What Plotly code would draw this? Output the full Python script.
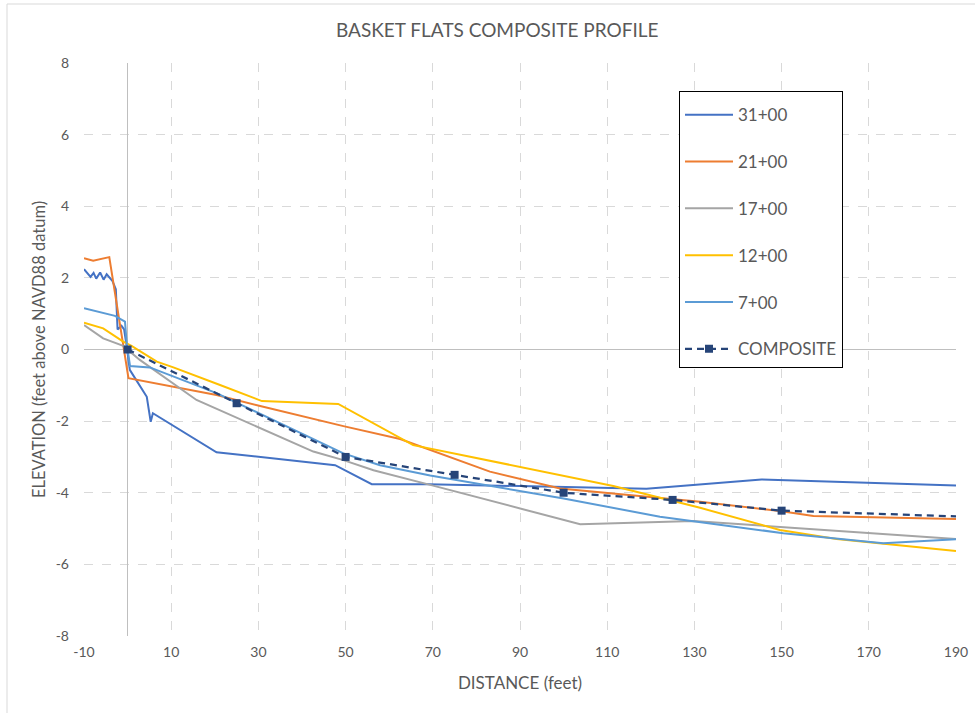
import plotly.graph_objects as go

# Beach profiles at Basket Flats: distance from baseline (ft) vs elevation (ft, NAVD88)
x_3100 = [-10, -8.5, -7.8, -7.2, -6.3, -5.5, -4.8, -3.5, -2.7, -2.3, -1.4, -0.8, -0.2,
          0.5, 1.7, 4.4, 5.3, 5.8, 20.4, 47.6, 56, 69, 119, 145.4, 190]
y_3100 = [2.24, 2.03, 2.14, 1.98, 2.15, 1.95, 2.1, 1.92, 1.68, 0.56, 0.66, 0.56, 0.08,
          -0.57, -0.8, -1.32, -2.02, -1.78, -2.87, -3.23, -3.76, -3.76, -3.89, -3.63, -3.8]

x_2100 = [-10, -7.9, -4.2, 0.2, 20.4, 30.4, 49.5, 62.5, 83.1, 99.2, 131.3, 149.6, 157.3, 190]
y_2100 = [2.55, 2.48, 2.58, -0.8, -1.27, -1.58, -2.14, -2.5, -3.41, -3.88, -4.25, -4.51, -4.65, -4.73]

x_1700 = [-10, -5.6, -1.0, 2.8, 15.8, 29.6, 42.6, 49.5, 56.4, 69.4, 103.8, 129.8, 190]
y_1700 = [0.68, 0.31, 0.1, -0.29, -1.41, -2.16, -2.85, -3.09, -3.37, -3.78, -4.88, -4.79, -5.29]

x_1200 = [-10, -5.6, -1.0, 0.9, 6.7, 10.5, 21.2, 30.8, 48.3, 65.5, 111.4, 131.3, 149.6, 162.6, 190]
y_1200 = [0.75, 0.59, 0.22, 0.1, -0.34, -0.5, -0.99, -1.44, -1.52, -2.67, -3.81, -4.42, -5.04, -5.29, -5.63]

x_0700 = [-10, -2.9, -0.6, -0.2, 0.55, 5.1, 20.4, 49.5, 57.9, 69.4, 100, 122.1, 150.4, 173.3, 190]
y_0700 = [1.15, 0.94, 0.78, 0.17, -0.46, -0.5, -1.22, -2.9, -3.23, -3.52, -4.16, -4.67, -5.13, -5.41, -5.3]

x_comp = [0, 25, 50, 75, 100, 125, 150, 200]
y_comp = [0, -1.5, -3.0, -3.5, -4.0, -4.2, -4.5, -4.7]

x_ticks = list(range(-10, 191, 20))
x_tick_labels = [str(v) for v in x_ticks]
y_ticks = list(range(-8, 9, 2))
y_tick_labels = [str(v) for v in y_ticks]

FONT = "Lato, 'Open Sans', sans-serif"
GREY_TXT = "#595959"

profiles = [
    ("31+00", x_3100, y_3100, "#4472C4"),
    ("21+00", x_2100, y_2100, "#ED7D31"),
    ("17+00", x_1700, y_1700, "#A5A5A5"),
    ("12+00", x_1200, y_1200, "#FFC000"),
    ("7+00", x_0700, y_0700, "#5B9BD5"),
]

fig = go.Figure()
for name, xs, ys, color in profiles:
    fig.add_trace(go.Scatter(
        x=xs, y=ys, name=name, mode="lines", legendgroup=name,
        line=dict(color=color, width=2),
    ))

fig.add_trace(go.Scatter(
    x=x_comp, y=y_comp, name="COMPOSITE", mode="lines+markers", legendgroup="COMPOSITE",
    line=dict(color="#264478", width=2.25, dash="7px,5px"),
    marker=dict(symbol="square", size=8, color="#264478"),
    cliponaxis=True,
))

axis_common = dict(
    showgrid=True, gridcolor="#D9D9D9", gridwidth=1, griddash="dash",
    zeroline=True, zerolinecolor="#BFBFBF", zerolinewidth=1,
    showline=False, ticks="", automargin=False,
    tickfont=dict(family=FONT, size=14, color=GREY_TXT),
)

fig.update_layout(
    width=975, height=713,
    margin=dict(l=84, r=19, t=63, b=77),
    paper_bgcolor="white", plot_bgcolor="white",
    title=dict(text="BASKET FLATS COMPOSITE PROFILE", x=0.51, xanchor="center",
               y=0.957, yanchor="middle",
               font=dict(family=FONT, size=19, color=GREY_TXT)),
    xaxis=dict(range=[-10, 190], tickvals=x_ticks, ticktext=x_tick_labels,
               ticklabelstandoff=6,
               title=dict(text="DISTANCE (feet)", standoff=18,
                          font=dict(family=FONT, size=17, color=GREY_TXT)),
               **axis_common),
    yaxis=dict(range=[-8, 8], tickvals=y_ticks, ticktext=y_tick_labels,
               ticklabelstandoff=14,
               title=dict(text="ELEVATION (feet above NAVD88 datum)", standoff=5,
                          font=dict(family=FONT, size=16.5, color=GREY_TXT)),
               **axis_common),
    legend=dict(x=(679 - 84) / 872, y=(636 - 91) / 573, xanchor="left", yanchor="top",
                bgcolor="white", bordercolor="black", borderwidth=1,
                tracegroupgap=21.7, itemwidth=48,
                title=dict(text=" ", font=dict(family=FONT, size=4)),
                font=dict(family=FONT, size=17, color=GREY_TXT)),
    showlegend=True,
    shapes=[dict(type="rect", xref="paper", yref="paper",
                 x0=(7 - 84) / 872, x1=1.1, y0=-0.2, y1=(636 - 4) / 573,
                 line=dict(color="#D9D9D9", width=1), layer="below")],
)

fig.write_html("out.html")
